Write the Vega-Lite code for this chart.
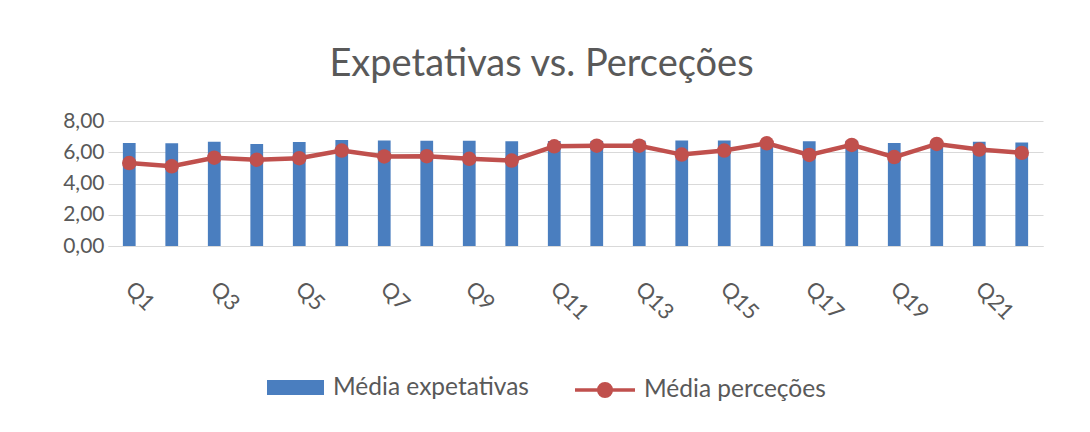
{
  "$schema": "https://vega.github.io/schema/vega-lite/v6.json",
  "autosize": {"type": "none"},
  "width": 935,
  "height": 125,
  "padding": {"left": 108, "top": 121, "right": 47, "bottom": 186},
  "background": "white",
  "config": {
    "font": "Lato",
    "view": {"stroke": null},
    "title": {"font": "Lato", "fontSize": 38, "fontWeight": "normal", "color": "#595959"},
    "axisY": {
      "labelOverlap": false, "labelFont": "Lato", "labelFontSize": 21, "labelColor": "#595959",
      "labelPadding": 4, "ticks": false, "domain": false, "gridColor": "#d9d9d9", "gridWidth": 1
    }
  },
  "title": {"text": "Expetativas vs. Perceções", "anchor": "middle", "frame": "group", "dx": -34, "offset": 26},
  "data": {
    "values": [
      {"q": "Q1", "exp": 6.59, "perc": 5.31},
      {"q": "Q2", "exp": 6.57, "perc": 5.10},
      {"q": "Q3", "exp": 6.68, "perc": 5.65},
      {"q": "Q4", "exp": 6.53, "perc": 5.52},
      {"q": "Q5", "exp": 6.66, "perc": 5.62},
      {"q": "Q6", "exp": 6.78, "perc": 6.11},
      {"q": "Q7", "exp": 6.76, "perc": 5.73},
      {"q": "Q8", "exp": 6.74, "perc": 5.75},
      {"q": "Q9", "exp": 6.74, "perc": 5.58},
      {"q": "Q10", "exp": 6.70, "perc": 5.47},
      {"q": "Q11", "exp": 6.72, "perc": 6.38},
      {"q": "Q12", "exp": 6.72, "perc": 6.42},
      {"q": "Q13", "exp": 6.74, "perc": 6.42},
      {"q": "Q14", "exp": 6.76, "perc": 5.85},
      {"q": "Q15", "exp": 6.76, "perc": 6.11},
      {"q": "Q16", "exp": 6.72, "perc": 6.57},
      {"q": "Q17", "exp": 6.70, "perc": 5.83},
      {"q": "Q18", "exp": 6.74, "perc": 6.47},
      {"q": "Q19", "exp": 6.59, "perc": 5.69},
      {"q": "Q20", "exp": 6.70, "perc": 6.53},
      {"q": "Q21", "exp": 6.68, "perc": 6.17},
      {"q": "Q22", "exp": 6.62, "perc": 5.96}
    ]
  },
  "encoding": {
    "x": {
      "field": "q", "type": "nominal", "sort": null,
      "scale": {"paddingInner": 0.7, "paddingOuter": 0.35},
      "axis": {
        "title": null,
        "values": ["Q1","Q3","Q5","Q7","Q9","Q11","Q13","Q15","Q17","Q19","Q21"],
        "labelAngle": 45,
        "labelFont": "Lato", "labelFontSize": 22, "labelColor": "#595959",
        "labelPadding": 32, "labelOffset": 7,
        "ticks": false,
        "domainColor": "#d9d9d9", "domainWidth": 1
      }
    }
  },
  "layer": [
    {
      "mark": {"type": "bar"},
      "encoding": {
        "y": {
          "field": "exp", "type": "quantitative",
          "scale": {"domain": [0, 8]},
          "axis": {
            "title": null, "values": [0, 2, 4, 6, 8],
            "labelExpr": "replace(format(datum.value, '.2f'), '.', ',')"
          }
        },
        "fill": {
          "datum": "Média expetativas",
          "scale": {"range": ["#4a7ebf"]},
          "legend": {
            "title": null, "orient": "none", "legendX": 159, "legendY": 238,
            "symbolType": "M-1,-0.26H1V0.26H-1Z", "symbolSize": 3249,
            "symbolStrokeWidth": 0, "labelLimit": 400,
            "labelFont": "Lato", "labelFontSize": 24.5, "labelColor": "#595959", "labelOffset": 9
          }
        }
      }
    },
    {
      "mark": {"type": "line", "strokeWidth": 4.5},
      "encoding": {
        "y": {
          "field": "perc", "type": "quantitative",
          "axis": {
            "title": null, "values": [0, 2, 4, 6, 8],
            "labelExpr": "replace(format(datum.value, '.2f'), '.', ',')"
          }
        },
        "stroke": {
          "datum": "Média perceções",
          "scale": {"range": ["#c0504d"]},
          "legend": {
            "title": null, "orient": "none", "legendX": 465, "legendY": 237,
            "symbolType": "M-1,0H1M0.21,0A0.21,0.21,0,1,1,-0.21,0A0.21,0.21,0,1,1,0.21,0",
            "symbolSize": 3600, "symbolStrokeWidth": 3.5, "symbolFillColor": "#c0504d",
            "labelLimit": 400,
            "labelFont": "Lato", "labelFontSize": 24.5, "labelColor": "#595959", "labelOffset": 7
          }
        }
      }
    },
    {
      "mark": {"type": "point", "filled": true, "size": 210, "opacity": 1, "color": "#c0504d"},
      "encoding": {
        "y": {
          "field": "perc", "type": "quantitative",
          "axis": {
            "title": null, "values": [0, 2, 4, 6, 8],
            "labelExpr": "replace(format(datum.value, '.2f'), '.', ',')"
          }
        }
      }
    }
  ]
}
